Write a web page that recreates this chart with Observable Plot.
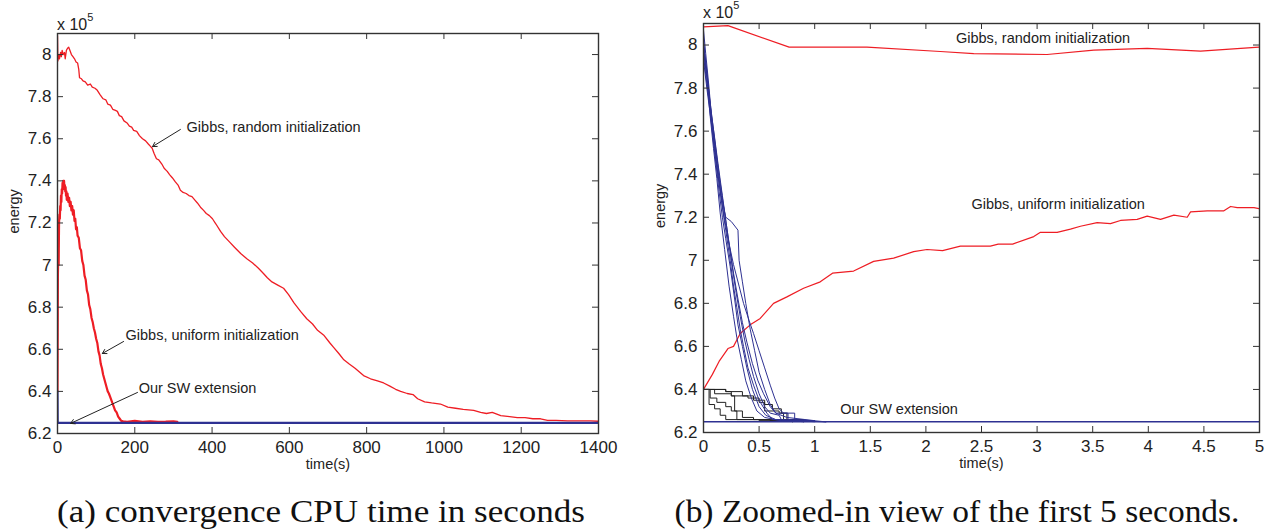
<!DOCTYPE html>
<html><head><meta charset="utf-8">
<script src="https://cdn.jsdelivr.net/npm/d3@7"></script>
<script src="https://cdn.jsdelivr.net/npm/@observablehq/plot@0.6"></script>
<style>
body{margin:0;background:#fff;width:1279px;height:532px;position:relative;overflow:hidden;font-family:'Liberation Sans',Arial,Helvetica,sans-serif}
.panel{position:absolute;top:0}
#overlay{position:absolute;left:0;top:0;pointer-events:none}
.sans{font-family:'Liberation Sans',Arial,Helvetica,sans-serif}
.serif{font-family:'Liberation Serif','Times New Roman',Times,serif}
</style></head><body>
<div id="a" class="panel" style="left:0"></div>
<div id="b" class="panel" style="left:640px"></div>
<svg id="overlay" width="1279" height="532">
  <text class="sans" x="57" y="30" font-size="16" fill="#222">x 10<tspan dy="-9" font-size="11">5</tspan></text>
  <text class="sans" x="703" y="18" font-size="16" fill="#222">x 10<tspan dy="-9" font-size="11">5</tspan></text>
  <text class="serif" x="321" y="522" text-anchor="middle" font-size="31" fill="#111" textLength="528" lengthAdjust="spacingAndGlyphs">(a) convergence CPU time in seconds</text>
  <text class="serif" x="957" y="522" text-anchor="middle" font-size="31" fill="#111" textLength="565" lengthAdjust="spacingAndGlyphs">(b) Zoomed-in view of the first 5 seconds.</text>
</svg>
<script>
// ---------- data ----------
const yTicks = [6.2, 6.4, 6.6, 6.8, 7.0, 7.2, 7.4, 7.6, 7.8, 8.0];
const xTicksA = [0, 200, 400, 600, 800, 1000, 1200, 1400];
const xTicksB = [0, 0.5, 1, 1.5, 2, 2.5, 3, 3.5, 4, 4.5, 5];

// Panel (a): full run, time in seconds
const gibbsRandomA = [[0,8.09],[1,7.97],[3,8.0],[5,7.98],[8,8.01],[10,7.99],[12,8.02],[15,8.0],[18,8.01],[20,7.98],[23,8.02],[26,8.03],[29,8.035],[32,8.02],[36,8.0],[40,7.99],[44,7.98],[48,7.965],[52,7.96],[55,7.93],[57,7.89],[62,7.885],[66,7.875],[72,7.87],[78,7.855],[85,7.86],[90,7.845],[97,7.84],[103,7.83],[110,7.81],[118,7.79],[125,7.785],[130,7.765],[137,7.76],[143,7.74],[150,7.735],[155,7.73],[160,7.71],[166,7.705],[172,7.685],[180,7.675],[186,7.66],[192,7.655],[197,7.64],[205,7.635],[212,7.615],[220,7.6],[228,7.59],[235,7.575],[240,7.565],[245,7.555],[250,7.53],[256,7.505],[262,7.5],[270,7.48],[276,7.46],[284,7.445],[290,7.43],[297,7.415],[305,7.395],[312,7.38],[318,7.355],[325,7.345],[333,7.34],[340,7.33],[348,7.325],[355,7.31],[362,7.295],[370,7.275],[378,7.26],[385,7.245],[393,7.235],[401,7.22],[410,7.195],[422,7.16],[432,7.135],[445,7.11],[458,7.085],[474,7.055],[490,7.03],[505,7.01],[520,6.985],[533,6.96],[543,6.94],[555,6.92],[570,6.905],[585,6.89],[598,6.86],[612,6.82],[629,6.78],[645,6.745],[660,6.72],[673,6.69],[690,6.665],[705,6.63],[714,6.61],[728,6.58],[741,6.55],[755,6.53],[770,6.51],[792,6.475],[810,6.46],[828,6.45],[844,6.44],[860,6.425],[875,6.41],[888,6.4],[905,6.39],[920,6.385],[932,6.365],[950,6.35],[968,6.345],[991,6.34],[1010,6.325],[1030,6.32],[1050,6.315],[1077,6.31],[1095,6.3],[1110,6.295],[1125,6.3],[1147,6.285],[1170,6.28],[1190,6.275],[1210,6.275],[1230,6.27],[1250,6.27],[1268,6.262],[1290,6.262],[1320,6.26],[1350,6.26],[1380,6.26],[1400,6.258]];
const gibbsUniformA = [[0,6.4],[1,6.95],[2,7.05],[3,7.0],[4,7.2],[5,7.24],[6,7.22],[7,7.28],[8,7.26],[9,7.33],[10,7.3],[11,7.36],[12,7.34],[13,7.39],[14,7.36],[15,7.4],[16,7.38],[17,7.4],[18,7.36],[19,7.38],[20,7.35],[21,7.37],[22,7.33],[23,7.35],[24,7.31],[26,7.34],[28,7.3],[30,7.32],[32,7.28],[34,7.3],[36,7.26],[38,7.28],[40,7.24],[42,7.26],[44,7.21],[46,7.22],[48,7.17],[50,7.18],[52,7.14],[55,7.13],[58,7.08],[61,7.07],[64,7.02],[67,7.0],[70,6.95],[73,6.93],[76,6.88],[79,6.86],[82,6.81],[85,6.79],[88,6.75],[91,6.73],[94,6.7],[97,6.68],[100,6.65],[103,6.63],[106,6.59],[109,6.57],[112,6.53],[115,6.51],[118,6.48],[121,6.46],[124,6.44],[127,6.42],[130,6.4],[133,6.39],[137,6.37],[141,6.35],[145,6.33],[149,6.31],[153,6.3],[157,6.28],[161,6.27],[165,6.26],[170,6.258],[180,6.255],[200,6.26],[220,6.255],[240,6.258],[260,6.255],[280,6.256],[300,6.258],[310,6.255]];
const swA = [[0,6.4],[0.5,6.25],[1400,6.25]];

// Panel (b): first 5 seconds
const gibbsRandomB = [[0,8.084],[0.22,8.09],[0.77,7.99],[1.47,7.99],[2.13,7.97],[2.43,7.96],[3.09,7.956],[3.51,7.976],[3.99,7.984],[4.47,7.972],[5,7.99]];
const gibbsUniformB = [[0,6.4],[0.08,6.47],[0.14,6.53],[0.22,6.59],[0.27,6.6],[0.33,6.66],[0.42,6.7],[0.51,6.73],[0.63,6.8],[0.75,6.83],[0.9,6.87],[1.05,6.9],[1.16,6.94],[1.35,6.95],[1.53,6.995],[1.71,7.01],[1.89,7.04],[2.01,7.05],[2.15,7.045],[2.31,7.066],[2.58,7.066],[2.65,7.075],[2.78,7.075],[2.97,7.11],[3.03,7.13],[3.18,7.13],[3.3,7.145],[3.39,7.158],[3.54,7.175],[3.66,7.17],[3.75,7.185],[3.9,7.19],[3.99,7.205],[4.11,7.19],[4.23,7.21],[4.35,7.2],[4.38,7.225],[4.53,7.23],[4.68,7.23],[4.74,7.25],[4.8,7.245],[4.95,7.245],[5,7.24]];
const swRunsB = [
  [[0,7.97],[0.03,7.85],[0.06,7.67],[0.09,7.52],[0.12,7.38],[0.15,7.22],[0.19,7.05],[0.23,6.88],[0.27,6.74],[0.3,6.64],[0.34,6.54],[0.38,6.44],[0.43,6.36],[0.48,6.3],[0.55,6.27],[0.7,6.255],[1.1,6.25]],
  [[0,8.07],[0.02,7.96],[0.05,7.8],[0.08,7.62],[0.11,7.46],[0.14,7.32],[0.17,7.2],[0.2,7.1],[0.24,6.97],[0.28,6.82],[0.31,6.7],[0.35,6.6],[0.39,6.5],[0.44,6.4],[0.5,6.32],[0.56,6.28],[0.65,6.26],[0.9,6.255],[1.1,6.25]],
  [[0,7.95],[0.03,7.82],[0.06,7.7],[0.1,7.55],[0.13,7.42],[0.16,7.3],[0.2,7.2],[0.25,7.18],[0.31,7.14],[0.32,7.0],[0.35,6.9],[0.38,6.8],[0.42,6.68],[0.46,6.58],[0.5,6.48],[0.55,6.4],[0.6,6.33],[0.65,6.29],[0.75,6.27],[1.0,6.255]],
  [[0,7.93],[0.03,7.8],[0.07,7.64],[0.1,7.5],[0.14,7.36],[0.18,7.22],[0.22,7.1],[0.27,6.98],[0.32,6.88],[0.36,6.8],[0.41,6.72],[0.45,6.66],[0.5,6.58],[0.55,6.5],[0.6,6.42],[0.64,6.36],[0.68,6.31],[0.72,6.29],[0.82,6.29],[0.82,6.26],[1.1,6.25]],
  [[0,8.0],[0.03,7.88],[0.06,7.72],[0.1,7.57],[0.13,7.45],[0.17,7.3],[0.21,7.15],[0.25,7.0],[0.29,6.86],[0.33,6.74],[0.37,6.63],[0.41,6.54],[0.45,6.46],[0.5,6.38],[0.55,6.32],[0.6,6.29],[0.68,6.28],[0.7,6.26],[1.0,6.25]],
  [[0,8.03],[0.02,7.92],[0.05,7.76],[0.09,7.58],[0.12,7.44],[0.16,7.28],[0.2,7.14],[0.24,7.0],[0.27,6.88],[0.3,6.78],[0.33,6.68],[0.36,6.6],[0.4,6.5],[0.45,6.42],[0.5,6.35],[0.57,6.29],[0.62,6.26],[0.9,6.25]],
  [[0,7.98],[0.03,7.86],[0.07,7.69],[0.11,7.52],[0.15,7.36],[0.19,7.22],[0.23,7.08],[0.27,6.94],[0.31,6.82],[0.35,6.71],[0.39,6.62],[0.44,6.52],[0.49,6.44],[0.54,6.38],[0.6,6.32],[0.65,6.29],[0.76,6.29],[0.76,6.26],[1.0,6.255]]
];
const swLocalRunsB = [
  [[0,6.4],[0.2,6.39],[0.35,6.37],[0.45,6.35],[0.55,6.33],[0.62,6.31],[0.7,6.29],[0.72,6.26],[0.9,6.25]],
  [[0,6.4],[0.2,6.39],[0.25,6.37],[0.4,6.36],[0.5,6.34],[0.55,6.3],[0.68,6.29],[0.75,6.26],[0.9,6.25]],
  [[0,6.4],[0.05,6.33],[0.1,6.31],[0.15,6.28],[0.2,6.26],[0.5,6.255],[0.8,6.25]],
  [[0,6.4],[0.06,6.36],[0.12,6.34],[0.2,6.32],[0.25,6.3],[0.3,6.26],[0.6,6.255],[0.8,6.25]],
  [[0,6.4],[0.1,6.38],[0.25,6.37],[0.28,6.3],[0.35,6.27],[0.45,6.26],[0.8,6.25]]
];
const swFinalB = [[0,6.25],[5,6.25]];

// annotations: [x, y, text] and arrows [x1, y1, x2, y2]
const labelsA = [[334,7.654,"Gibbs, random initialization"],[176,6.666,"Gibbs, uniform initialization"],[210,6.414,"Our SW extension"]];
const arrowsA = [[318,7.644,246,7.563],[171,6.637,116,6.58],[207,6.395,34,6.248]];
const labelsB = [[2.27,8.029,"Gibbs, random initialization"],[2.41,7.26,"Gibbs, uniform initialization"],[1.23,6.306,"Our SW extension"]];

// ---------- drawing ----------
const RED = "#ee1d24", BLUE = "#2e3192", BLACK = "#222", AX = "#333";
const SANS = "'Liberation Sans', Arial, Helvetica, sans-serif";
const fmt = d => String(+d.toFixed(1));
const P = d => ({t: d[0], e: d[1]});
function runs(list) { return list.flatMap((r, i) => r.map(d => ({t: d[0], e: d[1], id: i}))); }

function panel({width, height, mt, mb, ml, mr, xDomain, xTicks, series, labels, arrows}) {
  const ih = height - mt - mb, iw = width - ml - mr, tl = 6;
  return Plot.plot({
    width, height, marginTop: mt, marginBottom: mb, marginLeft: ml, marginRight: mr,
    style: {fontFamily: SANS, fontSize: "17px", color: "#222", background: "transparent"},
    x: {domain: xDomain},
    y: {domain: [6.2, 8.1]},
    marks: [
      ...series,
      Plot.text(labels, {x: d => d[0], y: d => d[1], text: d => d[2], textAnchor: "start", fontSize: 14.5, fontFamily: SANS, fill: "#222"}),
      ...(arrows ? [Plot.arrow(arrows, {x1: d => d[0], y1: d => d[1], x2: d => d[2], y2: d => d[3], stroke: "#222", strokeWidth: 1, headLength: 7})] : []),
      Plot.frame({stroke: AX, strokeWidth: 1.4}),
      Plot.ruleX(xTicks, {x: d => d, insetTop: ih - tl, stroke: AX}),
      Plot.ruleX(xTicks, {x: d => d, insetBottom: ih - tl, stroke: AX}),
      Plot.ruleY(yTicks, {y: d => d, insetRight: iw - tl, stroke: AX}),
      Plot.ruleY(yTicks, {y: d => d, insetLeft: iw - tl, stroke: AX}),
      Plot.axisX(xTicks, {tickSize: 0, tickPadding: 7, tickFormat: fmt, label: null, fill: "#222", fontFamily: SANS}),
      Plot.axisY(yTicks, {tickSize: 0, tickPadding: 6, tickFormat: fmt, label: null, fill: "#222", fontFamily: SANS}),
      Plot.text(["energy"], {frameAnchor: "left", dx: -43, rotate: -90, fontSize: 14.5, fontFamily: SANS, fill: "#222"}),
      Plot.text(["time(s)"], {frameAnchor: "bottom", dy: 35, fontSize: 14.5, fontFamily: SANS, fill: "#222"})
    ]
  });
}

const seriesA = [
  Plot.line(gibbsRandomA.map(P), {x: "t", y: "e", stroke: RED, strokeWidth: 1.3, clip: true}),
  Plot.line(gibbsUniformA.map(P), {x: "t", y: "e", stroke: RED, strokeWidth: 2.2, clip: true}),
  Plot.line(swA.map(P), {x: "t", y: "e", stroke: BLUE, strokeWidth: 2.2, clip: true})
];
const seriesB = [
  Plot.line(gibbsRandomB.map(P), {x: "t", y: "e", stroke: RED, strokeWidth: 1.2, clip: true}),
  Plot.line(gibbsUniformB.map(P), {x: "t", y: "e", stroke: RED, strokeWidth: 1.2, clip: true}),
  Plot.line(runs(swLocalRunsB), {x: "t", y: "e", z: "id", stroke: BLACK, strokeWidth: 1, curve: "step-after", clip: true}),
  Plot.line(runs(swRunsB), {x: "t", y: "e", z: "id", stroke: BLUE, strokeWidth: 1, clip: true}),
  Plot.line(swFinalB.map(P), {x: "t", y: "e", stroke: BLUE, strokeWidth: 1.4, clip: true})
];

document.getElementById("a").append(panel({width: 620, height: 473, mt: 33, mb: 40, ml: 57, mr: 22, xDomain: [0, 1400], xTicks: xTicksA, series: seriesA, labels: labelsA, arrows: arrowsA}));
document.getElementById("b").append(panel({width: 639, height: 472, mt: 23, mb: 40, ml: 63, mr: 20, xDomain: [0, 5], xTicks: xTicksB, series: seriesB, labels: labelsB}));
</script>
</body></html>
